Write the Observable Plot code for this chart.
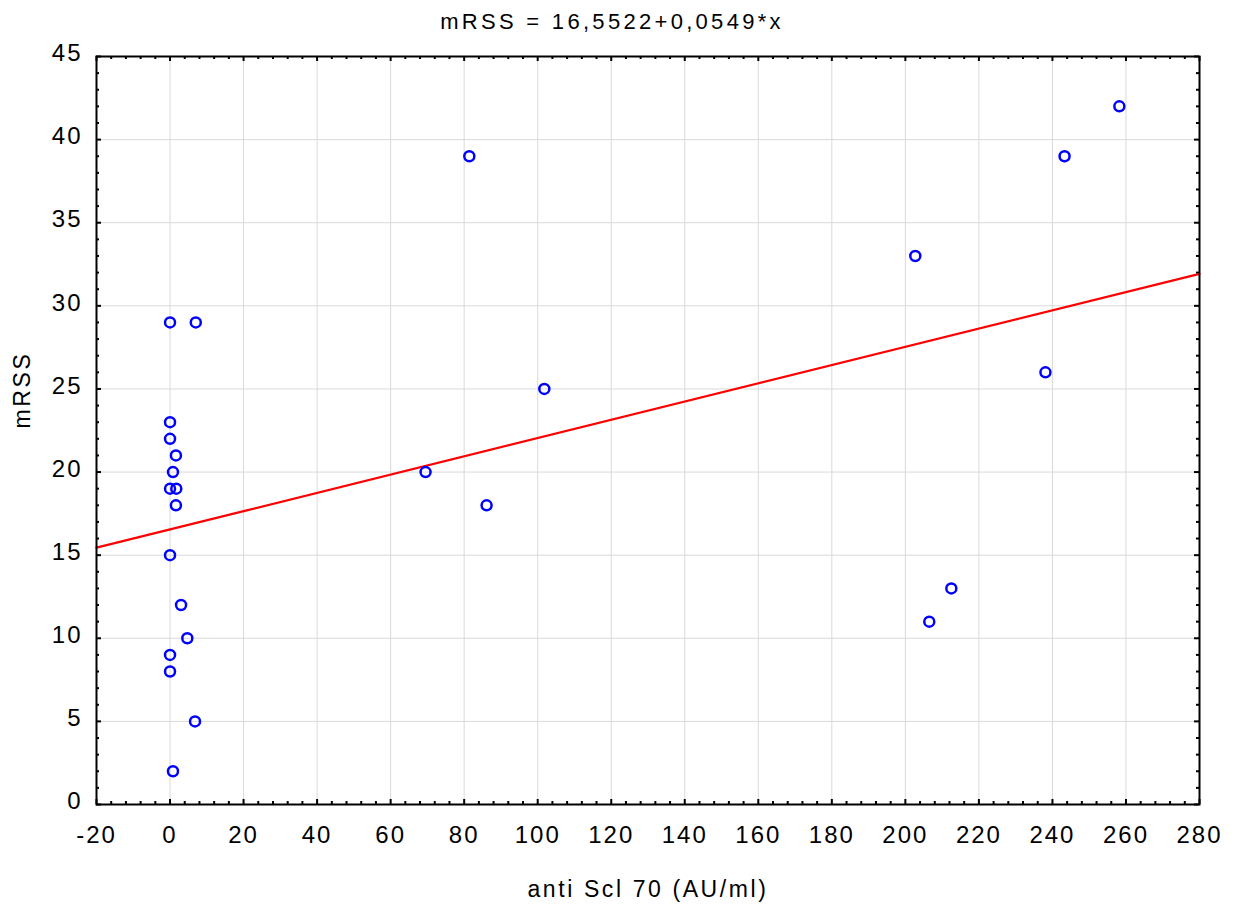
<!DOCTYPE html>
<html>
<head>
<meta charset="utf-8">
<script src="https://cdn.jsdelivr.net/npm/d3@7"></script>
<script src="https://cdn.jsdelivr.net/npm/@observablehq/plot@0.6"></script>
<style>
  body { margin: 0; background: #fff; }
  svg { font-family: "Liberation Sans", Arial, Helvetica, sans-serif; }
</style>
</head>
<body>
<div id="chart"></div>
<script>
// Data
const antiScl70 = [0, 7, 0, 0, 1.6, 0.8, 0, 1.7, 1.6, 0, 3, 4.7, 0, 0, 6.8, 0.8, 69.5, 81.4, 86.1, 101.8, 202.7, 206.5, 212.5, 238.1, 243.3, 258.2];
const mRSS      = [29, 29, 23, 22, 21, 20, 19, 19, 18, 15, 12, 10, 9, 8, 5, 2, 20, 39, 18, 25, 33, 11, 13, 26, 39, 42];

const intercept = 16.5522;
const slope = 0.0549;

const titleText = "mRSS = 16,5522+0,0549*x";
const xLabel = "anti Scl 70 (AU/ml)";
const yLabel = "mRSS";

const xDomain = [-20, 280];
const yDomain = [0, 45];
const xTicks = [-20, 0, 20, 40, 60, 80, 100, 120, 140, 160, 180, 200, 220, 240, 260, 280];
const yTicks = [0, 5, 10, 15, 20, 25, 30, 35, 40, 45];
const xMinor = d3.range(-20, 281, 4).filter(v => !xTicks.includes(v));
const yMinor = d3.range(0, 46, 1).filter(v => !yTicks.includes(v));

const points = antiScl70.map((x, i) => ({x, y: mRSS[i]}));
const fitLine = xDomain.map(x => ({x, y: intercept + slope * x}));

const W = 1237, H = 910;
const mL = 96, mR = 38, mT = 56, mB = 106;
const pw = W - mL - mR, ph = H - mT - mB;

const chart = Plot.plot({
  width: W,
  height: H,
  marginLeft: mL,
  marginRight: mR,
  marginTop: mT,
  marginBottom: mB,
  style: {background: "#fff", fontSize: "24px", color: "#000"},
  x: {domain: xDomain, axis: null},
  y: {domain: yDomain, axis: null},
  marks: [
    Plot.gridX(xTicks, {stroke: "#d9d9d9", strokeOpacity: 1, strokeWidth: 1}),
    Plot.gridY(yTicks, {stroke: "#d9d9d9", strokeOpacity: 1, strokeWidth: 1}),
    Plot.axisX(xTicks, {tickSize: 0, tickPadding: 21, label: null, fontSize: 24, tickFormat: d => String(d)}),
    Plot.axisY(yTicks, {tickSize: 0, tickPadding: 14, label: null, fontSize: 24, dy: -3, tickFormat: d => String(d)}),
    // inward ticks
    Plot.tickX(xTicks, {x: d => d, insetTop: ph - 5, stroke: "#000", strokeWidth: 2}),
    Plot.tickX(xTicks, {x: d => d, insetBottom: ph - 5, stroke: "#000", strokeWidth: 2}),
    Plot.tickX(xMinor, {x: d => d, insetTop: ph - 3, stroke: "#000", strokeWidth: 2}),
    Plot.tickX(xMinor, {x: d => d, insetBottom: ph - 3, stroke: "#000", strokeWidth: 2}),
    Plot.tickY(yTicks, {y: d => d, insetRight: pw - 5, stroke: "#000", strokeWidth: 2}),
    Plot.tickY(yTicks, {y: d => d, insetLeft: pw - 5, stroke: "#000", strokeWidth: 2}),
    Plot.tickY(yMinor, {y: d => d, insetRight: pw - 3, stroke: "#000", strokeWidth: 2}),
    Plot.tickY(yMinor, {y: d => d, insetLeft: pw - 3, stroke: "#000", strokeWidth: 2}),
    Plot.line(fitLine, {x: "x", y: "y", stroke: "#ff0000", strokeWidth: 2.2}),
    Plot.dot(points, {x: "x", y: "y", r: 5, stroke: "#0000ff", strokeWidth: 2.5, fill: "none"}),
    Plot.frame({stroke: "#000", strokeWidth: 2}),
    Plot.text([titleText], {text: d => d, frameAnchor: "top", lineAnchor: "middle", dy: -35, dx: -36, fontSize: 22}),
    Plot.text([xLabel], {text: d => d, frameAnchor: "bottom", lineAnchor: "middle", dy: 85, fontSize: 23}),
    Plot.text([yLabel], {text: d => d, frameAnchor: "left", lineAnchor: "middle", dx: -74, dy: -2, rotate: -90, fontSize: 23})
  ]
});

// letter spacing to match the reference's wide type
d3.select(chart).selectAll("text").each(function() {
  const t = this.textContent;
  let ls = "2px";
  if (t === titleText) ls = "3.3px";
  else if (t === xLabel || t === yLabel) ls = "2.6px";
  this.style.letterSpacing = ls;
});
document.getElementById("chart").appendChild(chart);
</script>
</body>
</html>
